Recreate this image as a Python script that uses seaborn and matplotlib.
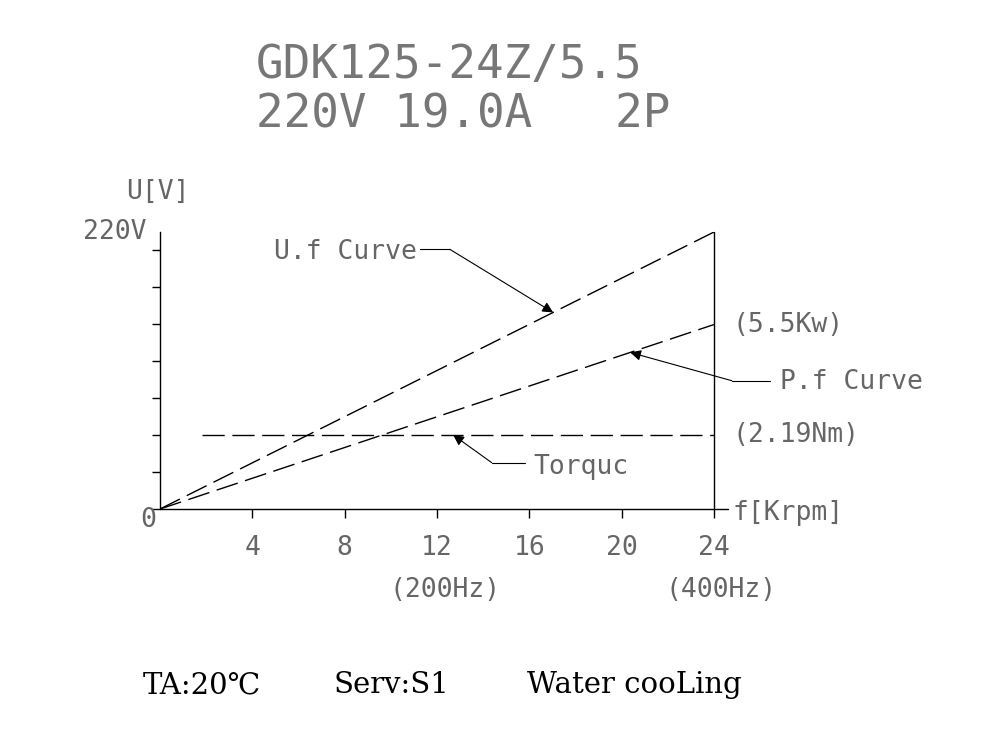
import numpy as np
import pandas as pd
import matplotlib
matplotlib.use("Agg")
import matplotlib.pyplot as plt
import seaborn as sns

# speed axis (krpm), U in volts; the P.f and torque curves are drawn on the same scale
uf_speed = [0, 24]
uf_volt = [0, 220]
pf_speed = [0, 24]
pf_value = [0, 146.5]
tq_speed = [1.8, 24]
tq_value = [58.8, 58.8]

x_ticks = [4, 8, 12, 16, 20, 24]
x_labels = ["4", "8", "12", "16", "20", "24"]
y_ticks = [29.4, 58.8, 88.2, 117.6, 147.0, 176.4, 205.8]

title_lines = ["GDK125-24Z/5.5", "220V 19.0A   2P"]
footer = ["TA:20℃", "Serv:S1", "Water cooLing"]

sns.set_style("white")
plt.rcParams["font.family"] = ["DejaVu Sans Mono", "DejaVu Sans"]

cad = "#666666"
fig = plt.figure(figsize=(9.9, 7.29), dpi=100)
ax = fig.add_axes([160 / 990, 220 / 729, 554 / 990, 277 / 729])

dash = (0, (16, 5.5))
sns.lineplot(x=uf_speed, y=uf_volt, ax=ax, color="black", lw=1, linestyle=dash)
sns.lineplot(x=pf_speed, y=pf_value, ax=ax, color="black", lw=1, linestyle=dash)
sns.lineplot(x=tq_speed, y=tq_value, ax=ax, color="black", lw=1, linestyle=dash)

ax.set_xlim(0, 24)
ax.set_ylim(0, 220)
for s in ["top", "right", "bottom"]:
    ax.spines[s].set_visible(False)
ax.spines["left"].set_color("black")
ax.spines["left"].set_linewidth(1)

# frame lines
ax.axhline(0, xmin=-0.35 / 24, xmax=24.6 / 24, color="black", lw=1, clip_on=False)
ax.axvline(24, ymin=0, ymax=1, color="black", lw=1, clip_on=False)

ax.set_xticks(x_ticks)
ax.set_xticklabels(x_labels)
ax.set_yticks(y_ticks)
ax.set_yticklabels([])
ax.tick_params(axis="x", bottom=True, direction="out", length=6.5, width=1,
               color="black", pad=12, labelsize=19, labelcolor=cad)
ax.tick_params(axis="y", left=True, direction="out", length=6, width=1, color="black")
ax.set_xlabel("")
ax.set_ylabel("")

tk = dict(fontsize=19, color=cad, clip_on=False)
ax.text(-0.6, 220, "220V", ha="right", va="center", **tk)
ax.text(-0.08, 252, "U[V]", ha="center", va="center", **tk)
ax.text(-0.52, -8.5, "0", ha="center", va="center", **tk)
ax.text(24.8, -3.2, "f[Krpm]", ha="left", va="center", **tk)
ax.text(24.8, pf_value[-1], "(5.5Kw)", ha="left", va="center", **tk)
ax.text(24.8, tq_value[-1], "(2.19Nm)", ha="left", va="center", **tk)
ax.text(12.35, -64.5, "(200Hz)", ha="center", va="center", **tk)
ax.text(24.3, -64.5, "(400Hz)", ha="center", va="center", **tk)

# leaders with arrows
arrow = dict(arrowstyle="-|>", color="black", lw=0.8, mutation_scale=16,
             shrinkA=0, shrinkB=0)


def leader(tip_x, xs, ys, corner, end, label, text_x, text_y, ha):
    tip_y = np.interp(tip_x, xs, ys)
    ax.annotate("", xy=(tip_x, tip_y), xytext=corner, arrowprops=arrow,
                annotation_clip=False)
    ax.plot([corner[0], end], [corner[1], corner[1]], color="black", lw=0.8,
            clip_on=False)
    ax.text(text_x, text_y, label, ha=ha, va="center", **tk)


leader(17.03, uf_speed, uf_volt, (12.56, 206.2), 11.26, "U.f Curve", 11.13, 204, "right")
leader(12.7, tq_speed, tq_value, (14.37, 36.8), 15.81, "Torquc", 16.16, 33.5, "left")
leader(20.37, pf_speed, pf_value, (24.77, 101.9), 26.43, "P.f Curve", 26.86, 100.5, "left")

fig.text(256 / 990, 1 - 65 / 729, title_lines[0], ha="left", va="center",
         fontsize=33, color="#777777")
fig.text(256 / 990, 1 - 115 / 729, title_lines[1], ha="left", va="center",
         fontsize=33, color="#777777")

foot_x = [143, 333, 527]
for fx, t in zip(foot_x, footer):
    fig.text(fx / 990, 1 - 685 / 729, t, ha="left", va="center", fontsize=21,
             color="black", family=["DejaVu Serif", "DejaVu Sans"])

fig.savefig("out.png", dpi=100)
